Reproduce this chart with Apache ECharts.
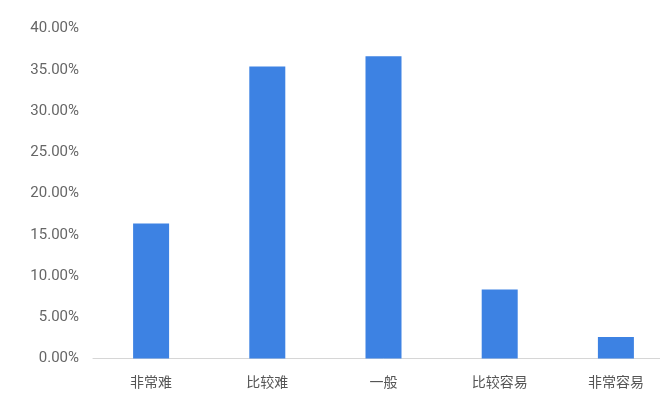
<!DOCTYPE html>
<html><head><meta charset="utf-8">
<script src="https://cdn.jsdelivr.net/npm/echarts@6/dist/echarts.min.js"></script>
<style>html,body{margin:0;padding:0;background:#fff;overflow:hidden;width:660px;height:408px}#c{width:680px;height:408px}</style>
</head><body><div id="c"></div>
<script>
var categories = ['非常难', '比较难', '一般', '比较容易', '非常容易'];
var values = [16.35, 35.4, 36.65, 8.35, 2.6];
var yMin = 0, yMax = 40, yStep = 5;

var chart = echarts.init(document.getElementById('c'));
chart.setOption({
  animation: false,
  grid: { left: 93, right: 6, top: 28.5, bottom: 49.5, containLabel: false },
  xAxis: {
    type: 'category', data: categories,
    axisLine: { lineStyle: { color: '#d6d6d6', width: 1 } },
    axisTick: { show: false },
    axisLabel: { color: '#555', fontSize: 14, margin: 16, fontFamily: 'Noto Sans CJK SC' }
  },
  yAxis: {
    type: 'value', min: yMin, max: yMax, interval: yStep,
    axisLine: { show: false }, axisTick: { show: false },
    splitLine: { show: false },
    axisLabel: { color: '#666', fontSize: 15, margin: 14, fontFamily: 'Roboto',
      formatter: function (v) { return v.toFixed(2) + '%'; } }
  },
  series: [{
    type: 'bar', data: values, barWidth: 36,
    itemStyle: { color: '#3d82e3' }
  }]
});
</script></body></html>
